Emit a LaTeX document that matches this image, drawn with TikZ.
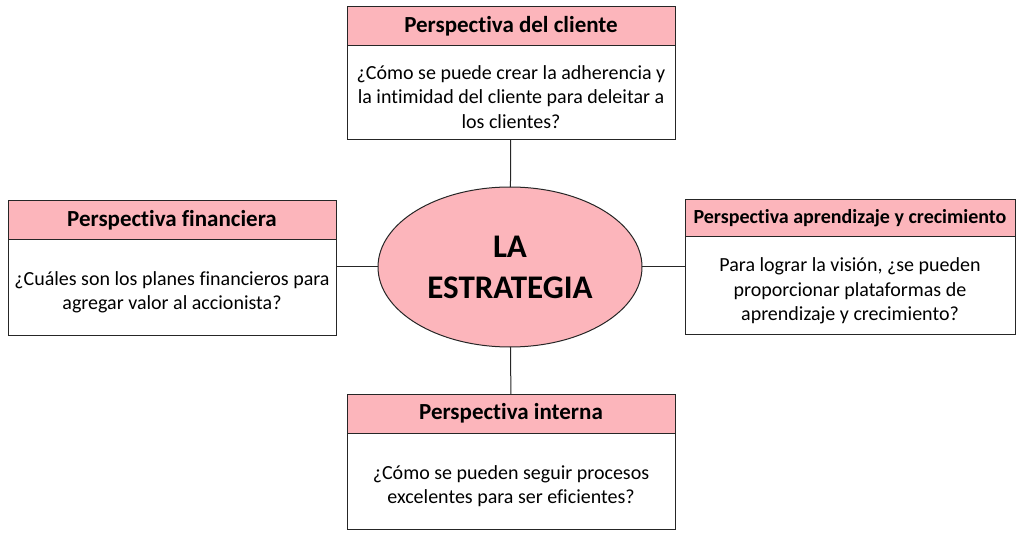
\documentclass[tikz,border=0pt]{standalone}
\usepackage{fontspec}
\setmainfont{Carlito}[Ligatures=NoCommon]
\usetikzlibrary{positioning, shapes.geometric}
\definecolor{rosa}{HTML}{FCB5BB}
\newcommand{\bajar}[1]{\rule{0pt}{#1}}
\tikzset{
	every node/.style={
		align=center,
		outer sep=0pt,
	},
	box/.style={draw=black!85, line width=1pt},
	header/.style={box, fill=rosa, font=\bfseries\fontsize{23}{26}\selectfont},
	body/.style={box, fill=white, font=\fontsize{20}{24.5}\selectfont},
}

\begin{document}
\begin{tikzpicture}[x=1pt, y=-1pt]
    \useasboundingbox (0,0) rectangle (1020,537);

    \node[draw=black!85, line width=1pt, fill=rosa, ellipse, minimum width=264pt, minimum height=160pt, inner sep=0pt, font=\bfseries\fontsize{33}{41}\selectfont] (estrategia) at (510,267) {LA\\ESTRATEGIA};

    \node[header, minimum width=328pt, minimum height=39pt] (cliente) at (511,26.5) {Perspectiva del cliente};
    \node[body, below=0pt of cliente, minimum width=328pt, minimum height=94pt] (cliente1) {\bajar{22pt}¿Cómo se puede crear la adherencia y\\la intimidad del cliente para deleitar a\\los clientes?};

    \node[header, minimum width=328pt, minimum height=39pt] (financiera) at (172,220.5) {Perspectiva financiera};
    \node[body, below=0pt of financiera, minimum width=328pt, minimum height=95pt] (financiera1) {\bajar{23pt}¿Cuáles son los planes financieros para\\agregar valor al accionista?};

    \node[header, minimum width=330pt, minimum height=37pt, font=\bfseries\fontsize{20}{22}\selectfont] (aprendizaje) at (850,218.5) {Perspectiva aprendizaje y crecimiento};
    \node[body, below=0pt of aprendizaje, minimum width=330pt, minimum height=97pt] (aprendizaje1) {\bajar{25pt}Para lograr la visión, ¿se pueden\\proporcionar plataformas de\\aprendizaje y crecimiento?};

    \node[header, minimum width=328pt, minimum height=39pt] (interna) at (511,413.5) {Perspectiva interna};
    \node[body, below=0pt of interna, minimum width=328pt, minimum height=96pt] (interna1) {\bajar{24pt}¿Cómo se pueden seguir procesos\\excelentes para ser eficientes?};

    \draw[box] (cliente1) -- (estrategia);
    \draw[box] (financiera1.east |- estrategia) -- (estrategia.west);
    \draw[box] (estrategia.east) -- (aprendizaje1.west |- estrategia);
    \draw[box] (estrategia) -- (interna);

\end{tikzpicture}
\end{document}
